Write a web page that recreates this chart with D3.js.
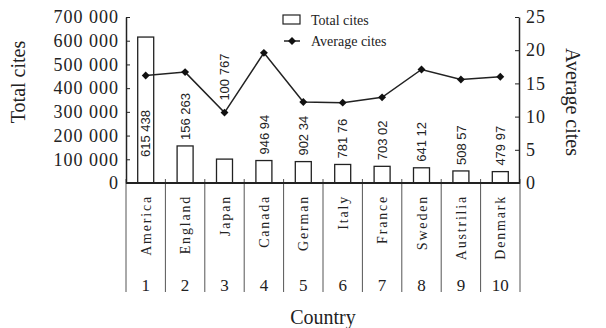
<!DOCTYPE html>
<html>
<head>
<meta charset="utf-8">
<script src="https://cdn.jsdelivr.net/npm/d3@7"></script>
<style>
  html, body { margin: 0; padding: 0; background: #fff; }
  svg { display: block; }
  text { fill: #222; }
</style>
</head>
<body>
<svg id="chart" width="606" height="328"></svg>
<script>
// Citation statistics by country
const countries = ["America", "England", "Japan", "Canada", "German", "Italy", "France", "Sweden", "Austrilia", "Denmark"];
const ranks = ["1", "2", "3", "4", "5", "6", "7", "8", "9", "10"];
const totalCites = [615438, 156263, 100767, 94694, 90234, 78176, 70302, 64112, 50857, 47997];
const totalLabels = ["615 438", "156 263", "100 767", "946 94", "902 34", "781 76", "703 02", "641 12", "508 57", "479 97"];
const averageCites = [16.2, 16.7, 10.6, 19.6, 12.2, 12.1, 12.9, 17.1, 15.6, 16.0];
const totalTicks = [0, 100000, 200000, 300000, 400000, 500000, 600000, 700000];
const averageTicks = [0, 5, 10, 15, 20, 25];
// where each value label sits: inside the bar, above the bar, or above the line marker
const labelSpots = ["inside", "above", "line", "above", "above", "above", "above", "above", "above", "above"];

const svg = d3.select("#chart");
const plotLeft = 126, plotRight = 520, plotTop = 17, base = 183;
const serif = "'Liberation Serif', 'Times New Roman', serif";
const sans = "'Liberation Sans', Arial, sans-serif";
const ink = "#222";

const x = d3.scaleBand().domain(countries).range([plotLeft, plotRight]);
const yTot = d3.scaleLinear().domain([0, 700000]).range([base, plotTop]);
const yAvg = d3.scaleLinear().domain([0, 25]).range([base, plotTop]);
const barW = 16;
const cx = c => x(c) + x.bandwidth() / 2;

// group separators below the baseline
svg.append("g").selectAll("line")
  .data(d3.range(countries.length + 1))
  .join("line")
  .attr("x1", i => plotLeft + i * x.bandwidth())
  .attr("x2", i => plotLeft + i * x.bandwidth())
  .attr("y1", base - 4)
  .attr("y2", 292)
  .attr("stroke", "#555")
  .attr("stroke-width", 1);

// bars
svg.append("g").selectAll("rect")
  .data(countries)
  .join("rect")
  .attr("x", c => cx(c) - barW / 2)
  .attr("y", (c, i) => yTot(totalCites[i]))
  .attr("width", barW)
  .attr("height", (c, i) => base - yTot(totalCites[i]))
  .attr("fill", "#fff")
  .attr("stroke", ink)
  .attr("stroke-width", 1.3);

// value labels
const labelStart = (c, i) => {
  if (labelSpots[i] === "inside") return yTot(0) - 26;
  if (labelSpots[i] === "line") return yAvg(averageCites[i]) - 12;
  return yTot(totalCites[i]) - 6;
};
svg.append("g").selectAll("text")
  .data(countries)
  .join("text")
  .attr("transform", (c, i) => `translate(${cx(c)},${labelStart(c, i)}) rotate(-90)`)
  .attr("dy", "0.36em")
  .attr("font-family", sans)
  .attr("font-size", 13)
  .text((c, i) => totalLabels[i]);

// average line
const line = d3.line()
  .x(c => cx(c))
  .y((c, i) => yAvg(averageCites[i]));
svg.append("path")
  .datum(countries)
  .attr("d", line)
  .attr("fill", "none")
  .attr("stroke", ink)
  .attr("stroke-width", 1.5);

const diamond = d3.symbol().type(d3.symbolDiamond2).size(40);
svg.append("g").selectAll("path")
  .data(countries)
  .join("path")
  .attr("transform", (c, i) => `translate(${cx(c)},${yAvg(averageCites[i])})`)
  .attr("d", diamond)
  .attr("fill", "#111");

// axes
const fmt = n => d3.format(",")(n).replace(/,/g, " ");
const leftAxis = svg.append("g")
  .attr("transform", `translate(${plotLeft},0)`)
  .call(d3.axisLeft(yTot).tickValues(totalTicks).tickFormat(fmt).tickSize(-4).tickSizeOuter(0).tickPadding(7));
const rightAxis = svg.append("g")
  .attr("transform", `translate(${plotRight - 1},0)`)
  .call(d3.axisRight(yAvg).tickValues(averageTicks).tickSize(-4).tickSizeOuter(0).tickPadding(7));
[leftAxis, rightAxis].forEach(g => {
  g.select(".domain").attr("stroke", ink).attr("stroke-width", 1.5);
  g.selectAll(".tick line").attr("stroke", ink).attr("stroke-width", 1);
  g.selectAll(".tick text")
    .attr("font-family", serif)
    .attr("font-size", 18)
    .attr("letter-spacing", 1)
    .attr("fill", ink);
});

// baseline
svg.append("line")
  .attr("x1", plotLeft).attr("x2", plotRight)
  .attr("y1", base).attr("y2", base)
  .attr("stroke", ink).attr("stroke-width", 2);

// country names and ranks
svg.append("g").selectAll("text")
  .data(countries)
  .join("text")
  .attr("transform", c => `translate(${cx(c)},195) rotate(-90)`)
  .attr("text-anchor", "end")
  .attr("dy", "0.36em")
  .attr("font-family", serif)
  .attr("font-size", 14)
  .attr("letter-spacing", 1.8)
  .text(c => c);

svg.append("g").selectAll("text")
  .data(countries)
  .join("text")
  .attr("x", c => cx(c))
  .attr("y", 291)
  .attr("text-anchor", "middle")
  .attr("font-family", serif)
  .attr("font-size", 17)
  .text((c, i) => ranks[i]);

// axis titles
svg.append("text")
  .attr("transform", "translate(18,82) rotate(-90)")
  .attr("text-anchor", "middle")
  .attr("dy", "0.35em")
  .attr("font-family", serif)
  .attr("font-size", 20)
  .text("Total cites");

svg.append("text")
  .attr("transform", "translate(573,102) rotate(90)")
  .attr("text-anchor", "middle")
  .attr("dy", "0.35em")
  .attr("font-family", serif)
  .attr("font-size", 20)
  .text("Average cites");

svg.append("text")
  .attr("x", 323)
  .attr("y", 324)
  .attr("text-anchor", "middle")
  .attr("font-family", serif)
  .attr("font-size", 20)
  .text("Country");

// legend
const legend = svg.append("g");
legend.append("rect")
  .attr("x", 283).attr("y", 15).attr("width", 17).attr("height", 9)
  .attr("fill", "#fff").attr("stroke", ink).attr("stroke-width", 1.2);
legend.append("text")
  .attr("x", 311).attr("y", 20).attr("dy", "0.35em")
  .attr("font-family", serif).attr("font-size", 14)
  .text("Total cites");
legend.append("line")
  .attr("x1", 284).attr("x2", 300).attr("y1", 41).attr("y2", 41)
  .attr("stroke", ink).attr("stroke-width", 1.5);
legend.append("path")
  .attr("transform", "translate(292,41)")
  .attr("d", diamond)
  .attr("fill", "#111");
legend.append("text")
  .attr("x", 311).attr("y", 41).attr("dy", "0.35em")
  .attr("font-family", serif).attr("font-size", 14)
  .text("Average cites");
</script>
</body>
</html>
